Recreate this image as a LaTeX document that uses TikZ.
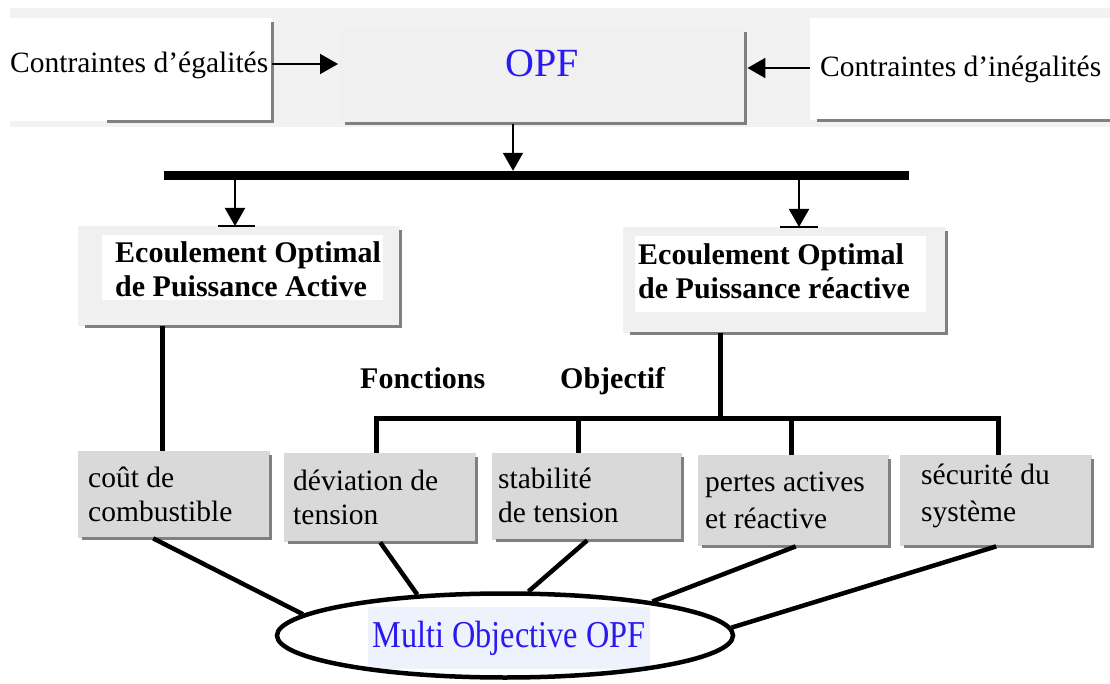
\documentclass[tikz,border=0pt]{standalone}
\usepackage{fontspec}
\setmainfont{Liberation Serif}
\usetikzlibrary{arrows.meta,shapes.geometric,calc}
\definecolor{band}{HTML}{F2F2F2}
\definecolor{boxa}{HTML}{F0F0F0}
\definecolor{boxb}{HTML}{D9D9D9}
\definecolor{shad}{HTML}{808080}
\definecolor{lblue}{HTML}{EEF2FD}
\definecolor{tblue}{HTML}{2A1AF0}
\newcommand{\shadowof}[2]{\draw[shadowline] ([yshift=-4pt]#1.north east) -- (#1.south east) -- ([xshift=#2]#1.south west);}
\begin{document}
\begin{tikzpicture}[x=1pt,y=-1pt,
  panel/.style={draw=none, inner sep=0, anchor=north west},
  shadowline/.style={draw=shad, line width=2.5pt},
  lbl/.style={anchor=base west, inner sep=0, font=\fontsize{29.5}{34}\selectfont},
  blbl/.style={anchor=base west, inner sep=0, font=\bfseries\fontsize{30}{34}\selectfont},
  slbl/.style={anchor=base west, inner sep=0, font=\fontsize{29.5}{34}\selectfont},
  arr/.style={line width=2pt, -{Triangle[length=18pt,width=20pt]}},
  tick/.style={line width=2pt},
  conn/.style={line width=4.5pt},
  vconn/.style={line width=5pt}
]
\useasboundingbox (0,0) rectangle (1110,684);
\fill[white] (0,0) rectangle (1110,684);
% top band
\fill[band] (10,8) rectangle (1110,127);

% top boxes
\node[panel, fill=white, minimum width=262pt, minimum height=103pt] (ceg) at (10,18) {};
\shadowof{ceg}{97pt}
\node[panel, fill=boxa, minimum width=405pt, minimum height=95pt] (opf) at (340,28) {};
\shadowof{opf}{5pt}
\node[panel, fill=white, minimum width=300pt, minimum height=102pt] (cie) at (810,18) {};
\draw[shadowline] ([xshift=7pt]cie.south west) -- (cie.south east);

\node[lbl] (tceg) at (10,73) {Contraintes d’égalités};
\node[lbl, anchor=base, font=\fontsize{40}{44}\selectfont, text=tblue] (topf) at (542,77) {OPF};
\node[lbl] (tcie) at (820,77) {Contraintes d’inégalités};

\coordinate (ya) at (0,64);
\coordinate (yb) at (0,68);
\draw[arr] (ceg.east |- ya) -- ([xshift=-2pt]opf.west |- ya);
\draw[arr] (cie.west |- yb) -- ([xshift=2pt]opf.east |- yb);

% bus
\node[fill=black, inner sep=0, minimum width=745pt, minimum height=9pt] (bus) at (536.5,175.5) {};
\coordinate (d0) at (513,0);
\draw[arr] ([yshift=-1pt]opf.south -| d0) -- (bus.north -| d0);

% second level boxes
\node[panel, fill=boxa, minimum width=322pt, minimum height=100pt] (act) at (78,226) {};
\fill[white] (102,235) rectangle (383,300);
\shadowof{act}{7pt}
\node[panel, fill=boxa, minimum width=323pt, minimum height=106pt] (rea) at (623,227) {};
\fill[white] (635,236) rectangle (926,312);
\shadowof{rea}{7pt}

\node[blbl] (ta1) at (115,263) {Ecoulement Optimal};
\node[blbl] (ta2) at (115,297) {de Puissance Active};
\node[blbl] (tr1) at (638,265) {Ecoulement Optimal};
\node[blbl] (tr2) at (638,299) {de Puissance réactive};

\coordinate (t1) at (235,0);
\coordinate (t2) at (799,0);
\draw[arr] (bus.south -| t1) -- (act.north -| t1);
\draw[tick] ([xshift=-17pt]act.north -| t1) -- ([xshift=20pt]act.north -| t1);
\draw[arr] (bus.south -| t2) -- (rea.north -| t2);
\draw[tick] ([xshift=-19pt]rea.north -| t2) -- ([xshift=19pt]rea.north -| t2);

\node[blbl] (tf) at (360,388) {Fonctions};
\node[blbl] (to) at (560,388) {Objectif};

% bottom boxes
\node[panel, fill=boxb, minimum width=192pt, minimum height=87pt] (b1) at (78,451) {};
\node[panel, fill=boxb, minimum width=192pt, minimum height=89pt] (b2) at (284,453) {};
\node[panel, fill=boxb, minimum width=190pt, minimum height=87pt] (b3) at (492,453) {};
\node[panel, fill=boxb, minimum width=191pt, minimum height=91pt] (b4) at (698,455) {};
\node[panel, fill=boxb, minimum width=192pt, minimum height=91pt] (b5) at (900,455) {};
\shadowof{b1}{4pt}
\shadowof{b2}{4pt}
\shadowof{b3}{4pt}
\shadowof{b4}{4pt}
\shadowof{b5}{4pt}

\node[slbl] (l11) at (88,487) {coût de};
\node[slbl] (l12) at (88,521) {combustible};
\node[slbl] (l21) at (293,490) {déviation de};
\node[slbl] (l22) at (293,524) {tension};
\node[slbl] (l31) at (498,488) {stabilité};
\node[slbl] (l32) at (498,522) {de tension};
\node[slbl] (l41) at (705,491) {pertes actives};
\node[slbl] (l42) at (705,528) {et réactive};
\node[slbl] (l51) at (921,484) {sécurité du};
\node[slbl] (l52) at (921,521) {système};

% tree connectors
\coordinate (h) at (0,418);
\coordinate (va) at (162,0);
\coordinate (vr) at (720,0);
\draw[vconn] (act.south -| va) -- (b1.north -| va);
\draw[vconn] (rea.south -| vr) -- (h -| vr);
\coordinate (c2) at (376,0);
\coordinate (c3) at (578,0);
\coordinate (c4) at (791,0);
\coordinate (c5) at (998,0);
\draw[vconn, line cap=rect] (h -| c2) -- (h -| c5);
\draw[vconn] (h -| c2) -- (b2.north -| c2);
\draw[vconn] (h -| c3) -- (b3.north -| c3);
\draw[vconn] (h -| c4) -- (b4.north -| c4);
\draw[vconn] (h -| c5) -- (b5.north -| c5);

% ellipse
\node[fill=lblue, inner sep=0, minimum width=282pt, minimum height=62pt, text=tblue, font=\fontsize{38}{40}\selectfont] (mo) at (509,638) {\scalebox{0.85}[1]{Multi Objective OPF}};
\node[ellipse, draw, line width=4.5pt, inner sep=0, minimum width=456pt, minimum height=84pt] (ell) at (505,635.5) {};

\draw[conn] ([xshift=-21pt]b1.south) -- (ell.174);
\draw[conn] (b2.south) -- (ell.155);
\draw[conn] (b3.south) -- (ell.62);
\draw[conn] ([xshift=2pt]b4.south) -- (ell.13);
\draw[conn] (b5.south) -- (ell.2);
\end{tikzpicture}
\end{document}
